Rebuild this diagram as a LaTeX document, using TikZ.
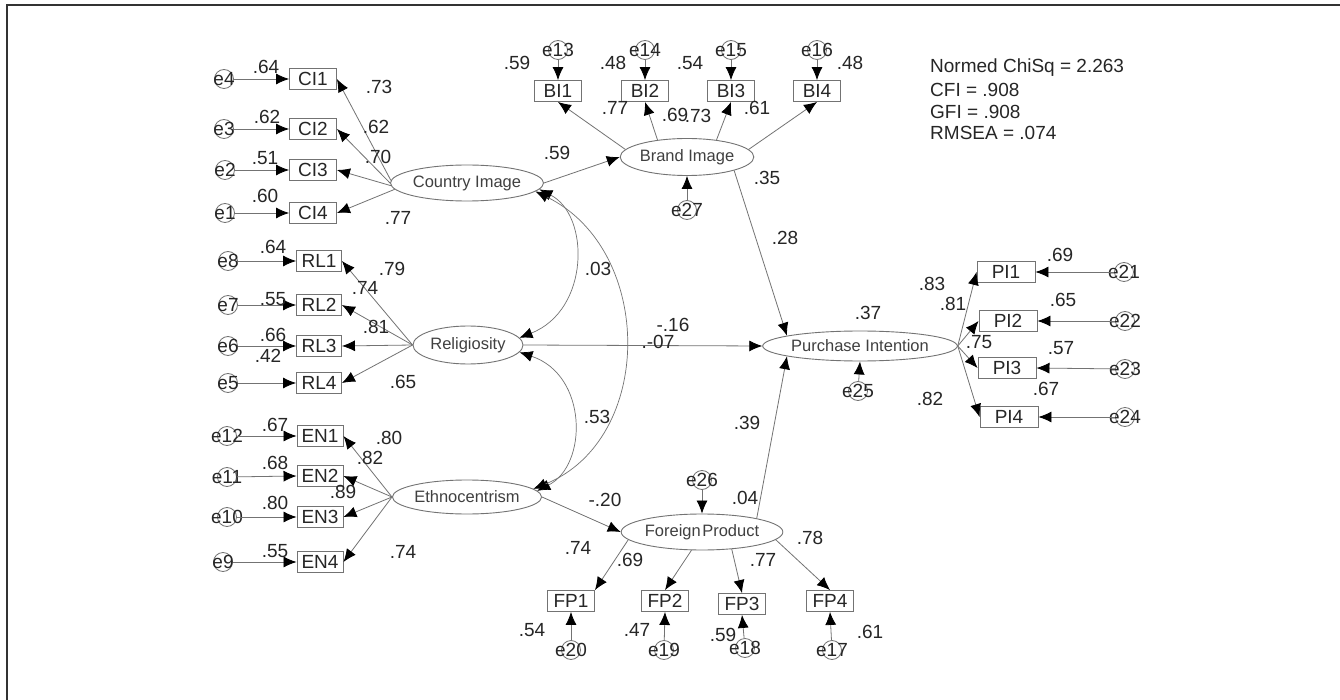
\documentclass[tikz,border=0pt]{standalone}
\usepackage{fontspec}
\setmainfont{Liberation Sans}
\usetikzlibrary{shapes.geometric,arrows.meta,calc}
\tikzset{
 lbl/.style={font=\fontsize{19pt}{21pt}\selectfont, text=black!85, inner sep=0pt},
 obs/.style={draw=black!55, line width=0.9pt, rectangle, minimum width=47pt, minimum height=21pt, inner sep=0pt, font=\fontsize{19pt}{21pt}\selectfont, text=black!85},
 lat/.style={draw=black!55, line width=0.9pt, ellipse, inner sep=0pt, font=\fontsize{16.5pt}{18pt}\selectfont, text=black!75},
 err/.style={draw=black!55, line width=0.8pt, circle, minimum size=19pt, inner sep=0pt},
 conn/.style={draw=black!55, line width=0.8pt, -{Latex[length=13pt,width=11pt,color=black]}},
 corr/.style={draw=black!55, line width=0.7pt, {Latex[length=13pt,width=11pt,color=black]}-{Latex[length=13pt,width=11pt,color=black]}},
}
\newcommand{\errnode}[3]{\node[err,label={[lbl]center:#3}] (#1) at (#2) {};}
\begin{document}
\begin{tikzpicture}[x=1pt,y=-1pt]
\useasboundingbox (0,0) rectangle (1340,700);
\fill[white] (0,0) rectangle (1340,700);
\draw[black!80, line width=2pt] (7,700) -- (7,5) -- (1340,5);

% ---------- latent variables
\node[lat, minimum width=130pt, minimum height=36pt] (CI) at (467,183) {Country Image};
\node[lat, minimum width=110pt, minimum height=38pt] (RL) at (468,345) {Religiosity};
\node[lat, minimum width=122pt, minimum height=34pt] (EN) at (467,497) {Ethnocentrism};
\node[lat, minimum width=118pt, minimum height=37pt] (BI) at (687,157) {Brand Image};
\node[lat, minimum width=152pt, minimum height=30pt] (PI) at (860,346) {Purchase Intention};
\node[lat, minimum width=130pt, minimum height=36pt] (FP) at (702,532) {Foreign\hspace{1.5pt}Product};

% ---------- Country Image indicators
\node[obs] (CI1) at (313,79) {CI1};
\node[obs] (CI2) at (313,129) {CI2};
\node[obs] (CI3) at (313,170) {CI3};
\node[obs] (CI4) at (313,213) {CI4};
\errnode{e4}{224,79}{e4}
\errnode{e3}{224,129}{e3}
\errnode{e2}{225,170}{e2}
\errnode{e1}{225,213}{e1}
\foreach \a/\b in {e4/CI1,e3/CI2,e2/CI3,e1/CI4} \draw[conn] (\a) -- (\b.west);
\draw[conn] (CI.178) -- (CI1.east);
\draw[conn] (CI.180) -- (CI2.east);
\draw[conn] (CI.182) -- (CI3.east);
\draw[conn] (CI.185) -- (CI4.east);
\node[lbl] at (266,67) {.64};
\node[lbl] at (267,117) {.62};
\node[lbl] at (265,158) {.51};
\node[lbl] at (265,196) {.60};
\node[lbl] at (379,87) {.73};
\node[lbl] at (376,127) {.62};
\node[lbl] at (378,157) {.70};
\node[lbl] at (398,218) {.77};

% ---------- Religiosity indicators
\node[obs, minimum width=45pt] (RL1) at (319,261) {RL1};
\node[obs, minimum width=45pt] (RL2) at (319,305) {RL2};
\node[obs, minimum width=45pt] (RL3) at (319,346) {RL3};
\node[obs, minimum width=45pt] (RL4) at (319,383) {RL4};
\errnode{e8}{228,261}{e8}
\errnode{e7}{228,305}{e7}
\errnode{e6}{228,346}{e6}
\errnode{e5}{228,383}{e5}
\foreach \a/\b in {e8/RL1,e7/RL2,e6/RL3,e5/RL4} \draw[conn] (\a) -- (\b.west);
\foreach \b in {RL1,RL2,RL3,RL4} \draw[conn] (RL.west) -- (\b.east);
\node[lbl] at (273,247) {.64};
\node[lbl] at (273,299) {.55};
\node[lbl] at (273,335) {.66};
\node[lbl] at (268,356) {.42};
\node[lbl] at (392,269) {.79};
\node[lbl] at (365,288) {.74};
\node[lbl] at (376,327) {.81};
\node[lbl] at (403,382) {.65};

% ---------- Ethnocentrism indicators
\node[obs, minimum width=46pt] (EN1) at (320,436) {EN1};
\node[obs, minimum width=46pt] (EN2) at (320,476) {EN2};
\node[obs, minimum width=46pt] (EN3) at (320,517) {EN3};
\node[obs, minimum width=46pt] (EN4) at (320,562) {EN4};
\errnode{e12}{227,436}{e12}
\errnode{e11}{227,477}{e11}
\errnode{e10}{227,517}{e10}
\errnode{e9}{223,562}{e9}
\foreach \a/\b in {e12/EN1,e11/EN2,e10/EN3,e9/EN4} \draw[conn] (\a) -- (\b.west);
\foreach \b in {EN1,EN2,EN3,EN4} \draw[conn] (EN.west) -- (\b.east);
\node[lbl] at (275,425) {.67};
\node[lbl] at (275,463) {.68};
\node[lbl] at (275,503) {.80};
\node[lbl] at (275,551) {.55};
\node[lbl] at (389,438) {.80};
\node[lbl] at (370,458) {.82};
\node[lbl] at (343,492) {.89};
\node[lbl] at (403,552) {.74};

% ---------- Brand Image indicators
\node[obs] (BI1) at (558,91) {BI1};
\node[obs] (BI2) at (645,91) {BI2};
\node[obs] (BI3) at (731,91) {BI3};
\node[obs] (BI4) at (817,91) {BI4};
\errnode{e13}{558,50}{e13}
\errnode{e14}{645,50}{e14}
\errnode{e15}{731,50}{e15}
\errnode{e16}{817,50}{e16}
\foreach \a/\b in {e13/BI1,e14/BI2,e15/BI3,e16/BI4} \draw[conn] (\a) -- (\b.north);
\draw[conn] (BI.173) -- (BI1.south);
\draw[conn] (BI.150) -- (BI2.south);
\draw[conn] (BI.30) -- (BI3.south);
\draw[conn] (BI.7) -- (BI4.south);
\errnode{e27}{687,210}{e27}
\draw[conn] (e27) -- (BI.south);
\node[lbl] at (517,63) {.59};
\node[lbl] at (613,63) {.48};
\node[lbl] at (690,63) {.54};
\node[lbl] at (850,63) {.48};
\node[lbl] at (615,108) {.77};
\node[lbl] at (675,115) {.69};
\node[lbl] at (698,116) {.73};
\node[lbl] at (757,108) {.61};
\node[lbl] at (557,153) {.59};
\node[lbl] at (767,178) {.35};
\node[lbl] at (785,238) {.28};

% ---------- Purchase Intention indicators
\node[obs, minimum width=58pt] (PI1) at (1006,272) {PI1};
\node[obs, minimum width=58pt] (PI2) at (1008,321) {PI2};
\node[obs, minimum width=58pt] (PI3) at (1007,368) {PI3};
\node[obs, minimum width=58pt] (PI4) at (1009,417) {PI4};
\errnode{e21}{1124,272}{e21}
\errnode{e22}{1125,321}{e22}
\errnode{e23}{1125,369}{e23}
\errnode{e24}{1125,417}{e24}
\foreach \a/\b in {e21/PI1,e22/PI2,e23/PI3,e24/PI4} \draw[conn] (\a) -- (\b.east);
\foreach \b in {PI1,PI2,PI3,PI4} \draw[conn] (PI.east) -- (\b.west);
\errnode{e25}{858,391}{e25}
\draw[conn] (e25) -- (PI.south);
\node[lbl] at (1060,255) {.69};
\node[lbl] at (1063,300) {.65};
\node[lbl] at (1061,348) {.57};
\node[lbl] at (1046,389) {.67};
\node[lbl] at (932,284) {.83};
\node[lbl] at (953,304) {.81};
\node[lbl] at (979,342) {.75};
\node[lbl] at (930,399) {.82};
\node[lbl] at (868,313) {.37};

% ---------- Foreign Product indicators
\node[obs] (FP1) at (571,601) {FP1};
\node[obs] (FP2) at (665,601) {FP2};
\node[obs] (FP3) at (742,604) {FP3};
\node[obs] (FP4) at (830,601) {FP4};
\errnode{e20}{571,650}{e20}
\errnode{e19}{664,650}{e19}
\errnode{e18}{745,648}{e18}
\errnode{e17}{832,650}{e17}
\foreach \a/\b in {e20/FP1,e19/FP2,e18/FP3,e17/FP4} \draw[conn] (\a) -- (\b.south);
\draw[conn] (FP.186) -- (FP1.north east);
\draw[conn] (FP.240) -- (FP2.north);
\draw[conn] (FP.-30) -- (FP3.north);
\draw[conn] (FP.-6) -- (FP4.north);
\errnode{e26}{702,480}{e26}
\draw[conn] (e26) -- (FP.north);
\node[lbl] at (532,630) {.54};
\node[lbl] at (637,630) {.47};
\node[lbl] at (723,635) {.59};
\node[lbl] at (870,632) {.61};
\node[lbl] at (578,548) {.74};
\node[lbl] at (630,560) {.69};
\node[lbl] at (763,560) {.77};
\node[lbl] at (810,538) {.78};

% ---------- structural paths
\draw[conn] (CI.east) -- (BI.west);
\draw[conn] (BI.-16) -- (PI.172);
\draw[conn] (RL.east) -- (PI.west);
\draw[conn] (FP.14) -- (PI.188);
\draw[conn] (EN.east) -- (FP.west);
\node[lbl] at (673,325) {-.16};
\node[lbl] at (658,342) {.-07};
\node[lbl] at (605,500) {-.20};
\node[lbl] at (745,498) {.04};
\node[lbl] at (747,423) {.39};

% ---------- correlations
\draw[corr] (CI.-5) .. controls (590,215) and (590,310) .. (RL.8);
\draw[corr] (RL.-8) .. controls (588,375) and (588,465) .. (EN.5);
\draw[corr] (CI.-7) .. controls (655,250) and (655,440) .. (EN.7);
\node[lbl] at (598,269) {.03};
\node[lbl] at (597,417) {.53};

% ---------- fit statistics
\node[lbl, anchor=west] at (930,68) {Normed ChiSq = 2.263};
\node[lbl, anchor=west] at (930,90) {CFI = .908};
\node[lbl, anchor=west] at (930,112) {GFI = .908};
\node[lbl, anchor=west] at (930,133) {RMSEA = .074};
\end{tikzpicture}
\end{document}
